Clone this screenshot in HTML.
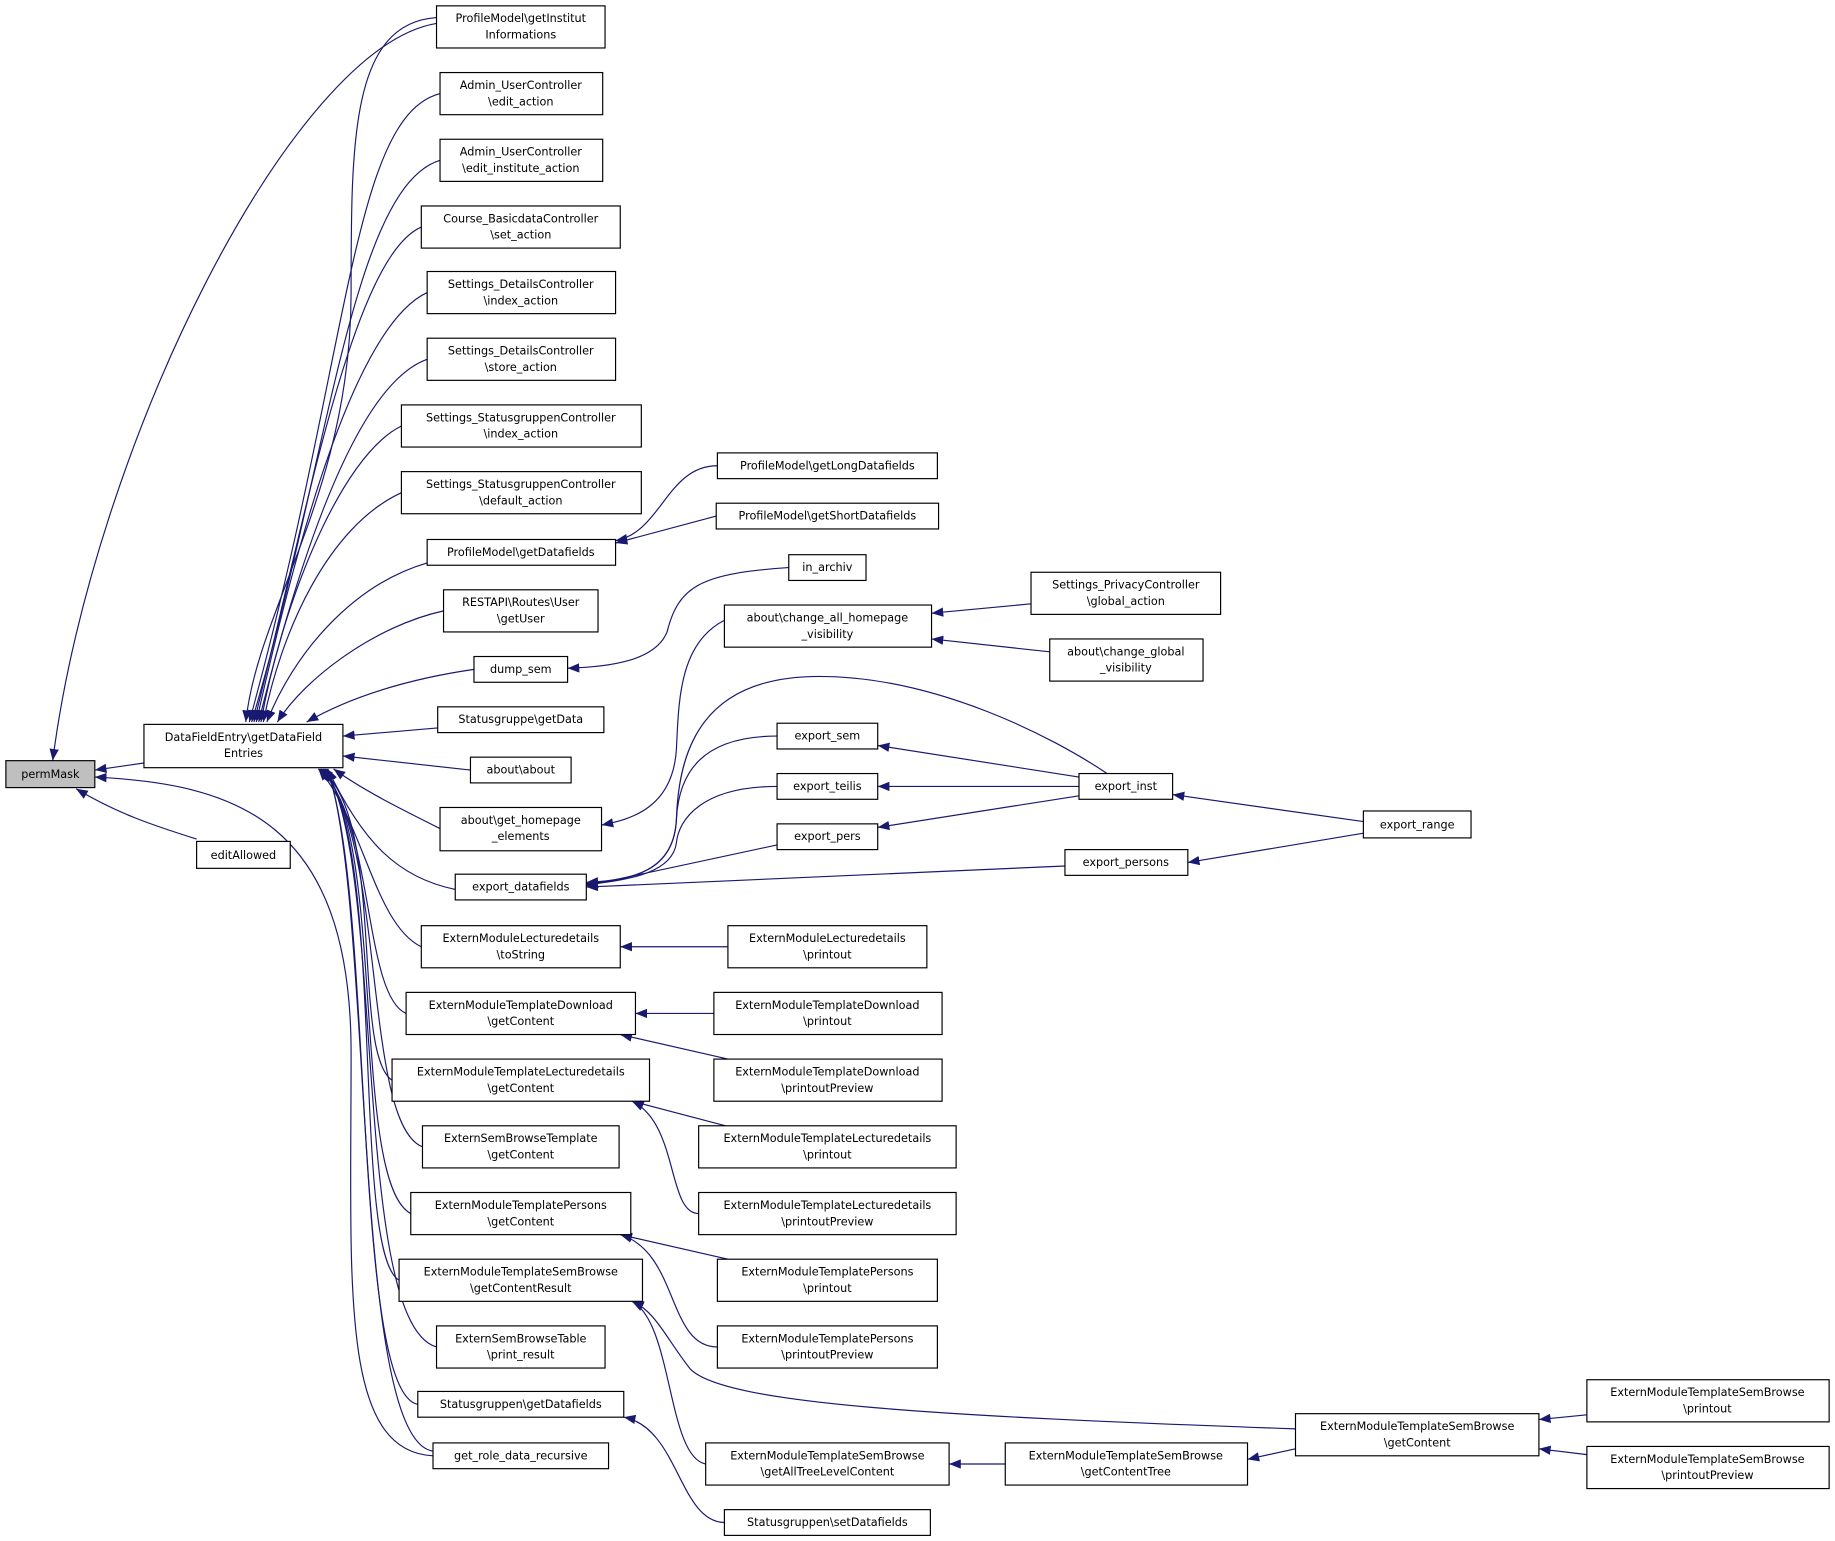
<!DOCTYPE html>
<html><head><meta charset="utf-8"><style>
html,body{margin:0;padding:0;background:#fff}
svg{display:block}
text{font-family:"DejaVu Sans","Liberation Sans",sans-serif;font-size:9.6px;fill:#000}
.b{fill:#fff;stroke:#000;stroke-width:1}
.e{fill:none;stroke:#191970;stroke-width:1}
</style></head><body>
<svg width="1835" height="1541" viewBox="0 0 1568 1316.8" xmlns="http://www.w3.org/2000/svg">
<defs><marker id="a" markerWidth="10" markerHeight="8" refX="10" refY="4" orient="auto" markerUnits="userSpaceOnUse"><polygon points="0,0 10,4 0,8" fill="#191970"/></marker></defs>
<g class="e" marker-end="url(#a)">
<path d="M373,20 C250,40 80,380 45,650"/>
<path d="M123,652 L81,658"/>
<path d="M168,717 C130,705 100,695 65,674"/>
<path d="M370,1244 C290,1240 300,1100 300,900 C300,700 200,670 81,664"/>
<path d="M373,15 C300,20 300,120 300,250 C300,420 220,520 210,617"/>
<path d="M376,80 C300,100 300,300 213,617"/>
<path d="M376,137 C300,160 280,400 215,617"/>
<path d="M360,194 C300,220 260,450 217,617"/>
<path d="M365,250 C300,280 250,480 219,617"/>
<path d="M365,307 C300,330 250,500 221,617"/>
<path d="M343,364 C290,390 240,520 223,617"/>
<path d="M343,421 C280,450 240,540 225,617"/>
<path d="M365,481 C300,500 250,560 228,617"/>
<path d="M379,522 C320,535 260,580 237,617"/>
<path d="M405,572 C350,580 300,595 262,617"/>
<path d="M374,622 L293,629"/>
<path d="M402,658 L293,646"/>
<path d="M376,708 C340,690 310,675 285,657"/>
<path d="M389,760 C340,750 310,720 280,657"/>
<path d="M360,809 C320,790 310,700 272,657"/>
<path d="M347,866 C310,850 320,700 273,657"/>
<path d="M335,923 C300,900 330,700 274,657"/>
<path d="M361,980 C310,960 330,720 275,657"/>
<path d="M351,1037 C300,1010 330,720 276,657"/>
<path d="M341,1094 C300,1070 330,730 277,657"/>
<path d="M373,1151 C300,1130 330,740 278,657"/>
<path d="M357,1200 C300,1190 320,760 279,657"/>
<path d="M370,1240 C300,1230 320,780 280,657"/>
<path d="M613,398 C570,398 565,455 526,462"/>
<path d="M612,441 L526,464"/>
<path d="M674,485 C600,490 580,500 570,540 C560,565 520,570 485,571"/>
<path d="M619,530 C580,550 580,600 578,640 C575,690 540,700 514,705"/>
<path d="M664,629 C600,629 580,660 578,700 C576,745 540,752 501,755"/>
<path d="M664,672 C600,672 580,700 578,720 C575,745 540,752 501,756"/>
<path d="M664,722 L501,757"/>
<path d="M946,661 C900,630 800,578 700,578 C600,578 580,640 578,700 C576,745 540,752 501,754"/>
<path d="M910,740 L501,758"/>
<path d="M622,809 L530,809"/>
<path d="M610,866 L543,866"/>
<path d="M622,905 L530,884"/>
<path d="M620,962 L540,941"/>
<path d="M597,1037 C570,1037 580,960 540,941"/>
<path d="M622,1076 L530,1055"/>
<path d="M613,1151 C570,1151 580,1070 530,1055"/>
<path d="M603,1251 C570,1245 575,1130 540,1112"/>
<path d="M1107,1221 C800,1210 620,1200 590,1170 C570,1145 560,1120 540,1112"/>
<path d="M619,1301 C580,1300 580,1220 533,1211"/>
<path d="M881,516 L796,524"/>
<path d="M897,557 L796,546"/>
<path d="M922,664 L750,637"/>
<path d="M922,672 L750,672"/>
<path d="M922,680 L750,707"/>
<path d="M1165,702 L1002,679"/>
<path d="M1165,712 L1015,737"/>
<path d="M859,1251 L811,1251"/>
<path d="M1107,1238 L1066,1247"/>
<path d="M1356,1209 L1315,1213"/>
<path d="M1356,1243 L1315,1238"/>
</g>
<g>
<rect x="5" y="650" width="76" height="23" fill="#bfbfbf" stroke="#000"/><text x="43" y="665" text-anchor="middle">permMask</text>
<rect class="b" x="123" y="619" width="170" height="37"/><text x="208" y="633" text-anchor="middle">DataFieldEntry\getDataField</text><text x="208" y="647" text-anchor="middle">Entries</text>
<rect class="b" x="168" y="719" width="80" height="23"/><text x="208" y="734" text-anchor="middle">editAllowed</text>
</g>
<g text-anchor="middle">
<rect class="b" x="373" y="5" width="144" height="36"/><text x="445" y="19">ProfileModel\getInstitut</text><text x="445" y="33">Informations</text>
<rect class="b" x="376" y="62" width="139" height="36"/><text x="445" y="76">Admin_UserController</text><text x="445" y="90">\edit_action</text>
<rect class="b" x="376" y="119" width="139" height="36"/><text x="445" y="133">Admin_UserController</text><text x="445" y="147">\edit_institute_action</text>
<rect class="b" x="360" y="176" width="170" height="36"/><text x="445" y="190">Course_BasicdataController</text><text x="445" y="204">\set_action</text>
<rect class="b" x="365" y="232" width="161" height="36"/><text x="445" y="246">Settings_DetailsController</text><text x="445" y="260">\index_action</text>
<rect class="b" x="365" y="289" width="161" height="36"/><text x="445" y="303">Settings_DetailsController</text><text x="445" y="317">\store_action</text>
<rect class="b" x="343" y="346" width="205" height="36"/><text x="445" y="360">Settings_StatusgruppenController</text><text x="445" y="374">\index_action</text>
<rect class="b" x="343" y="403" width="205" height="36"/><text x="445" y="417">Settings_StatusgruppenController</text><text x="445" y="431">\default_action</text>
<rect class="b" x="365" y="461" width="161" height="22"/><text x="445" y="475">ProfileModel\getDatafields</text>
<rect class="b" x="379" y="504" width="132" height="36"/><text x="445" y="518">RESTAPI\Routes\User</text><text x="445" y="532">\getUser</text>
<rect class="b" x="405" y="561" width="80" height="22"/><text x="445" y="575">dump_sem</text>
<rect class="b" x="374" y="604" width="142" height="22"/><text x="445" y="618">Statusgruppe\getData</text>
<rect class="b" x="402" y="647" width="86" height="22"/><text x="445" y="661">about\about</text>
<rect class="b" x="376" y="690" width="138" height="37"/><text x="445" y="704">about\get_homepage</text><text x="445" y="718">_elements</text>
<rect class="b" x="389" y="747" width="112" height="22"/><text x="445" y="761">export_datafields</text>
<rect class="b" x="360" y="791" width="170" height="36"/><text x="445" y="805">ExternModuleLecturedetails</text><text x="445" y="819">\toString</text>
<rect class="b" x="347" y="848" width="196" height="36"/><text x="445" y="862">ExternModuleTemplateDownload</text><text x="445" y="876">\getContent</text>
<rect class="b" x="335" y="905" width="220" height="36"/><text x="445" y="919">ExternModuleTemplateLecturedetails</text><text x="445" y="933">\getContent</text>
<rect class="b" x="361" y="962" width="168" height="36"/><text x="445" y="976">ExternSemBrowseTemplate</text><text x="445" y="990">\getContent</text>
<rect class="b" x="351" y="1019" width="188" height="36"/><text x="445" y="1033">ExternModuleTemplatePersons</text><text x="445" y="1047">\getContent</text>
<rect class="b" x="341" y="1076" width="208" height="36"/><text x="445" y="1090">ExternModuleTemplateSemBrowse</text><text x="445" y="1104">\getContentResult</text>
<rect class="b" x="373" y="1133" width="144" height="36"/><text x="445" y="1147">ExternSemBrowseTable</text><text x="445" y="1161">\print_result</text>
<rect class="b" x="357" y="1189" width="176" height="22"/><text x="445" y="1203">Statusgruppen\getDatafields</text>
<rect class="b" x="370" y="1233" width="150" height="22"/><text x="445" y="1247">get_role_data_recursive</text>

<rect class="b" x="613" y="387" width="188" height="22"/><text x="707" y="401">ProfileModel\getLongDatafields</text>
<rect class="b" x="612" y="430" width="190" height="22"/><text x="707" y="444">ProfileModel\getShortDatafields</text>
<rect class="b" x="674" y="474" width="66" height="22"/><text x="707" y="488">in_archiv</text>
<rect class="b" x="619" y="517" width="177" height="36"/><text x="707" y="531">about\change_all_homepage</text><text x="707" y="545">_visibility</text>
<rect class="b" x="664" y="618" width="86" height="22"/><text x="707" y="632">export_sem</text>
<rect class="b" x="664" y="661" width="86" height="22"/><text x="707" y="675">export_teilis</text>
<rect class="b" x="664" y="704" width="86" height="22"/><text x="707" y="718">export_pers</text>
<rect class="b" x="622" y="791" width="170" height="36"/><text x="707" y="805">ExternModuleLecturedetails</text><text x="707" y="819">\printout</text>
<rect class="b" x="610" y="848" width="195" height="36"/><text x="707" y="862">ExternModuleTemplateDownload</text><text x="707" y="876">\printout</text>
<rect class="b" x="610" y="905" width="195" height="36"/><text x="707" y="919">ExternModuleTemplateDownload</text><text x="707" y="933">\printoutPreview</text>
<rect class="b" x="597" y="962" width="220" height="36"/><text x="707" y="976">ExternModuleTemplateLecturedetails</text><text x="707" y="990">\printout</text>
<rect class="b" x="597" y="1019" width="220" height="36"/><text x="707" y="1033">ExternModuleTemplateLecturedetails</text><text x="707" y="1047">\printoutPreview</text>
<rect class="b" x="613" y="1076" width="188" height="36"/><text x="707" y="1090">ExternModuleTemplatePersons</text><text x="707" y="1104">\printout</text>
<rect class="b" x="613" y="1133" width="188" height="36"/><text x="707" y="1147">ExternModuleTemplatePersons</text><text x="707" y="1161">\printoutPreview</text>
<rect class="b" x="603" y="1233" width="208" height="36"/><text x="707" y="1247">ExternModuleTemplateSemBrowse</text><text x="707" y="1261">\getAllTreeLevelContent</text>
<rect class="b" x="619" y="1290" width="176" height="22"/><text x="707" y="1304">Statusgruppen\setDatafields</text>

<rect class="b" x="881" y="489" width="162" height="36"/><text x="962" y="503">Settings_PrivacyController</text><text x="962" y="517">\global_action</text>
<rect class="b" x="897" y="546" width="131" height="36"/><text x="962" y="560">about\change_global</text><text x="962" y="574">_visibility</text>
<rect class="b" x="922" y="661" width="80" height="22"/><text x="962" y="675">export_inst</text>
<rect class="b" x="910" y="726" width="105" height="22"/><text x="962" y="740">export_persons</text>
<rect class="b" x="859" y="1233" width="207" height="36"/><text x="962" y="1247">ExternModuleTemplateSemBrowse</text><text x="962" y="1261">\getContentTree</text>

<rect class="b" x="1165" y="693" width="92" height="23"/><text x="1211" y="708">export_range</text>
<rect class="b" x="1107" y="1208" width="208" height="36"/><text x="1211" y="1222">ExternModuleTemplateSemBrowse</text><text x="1211" y="1236">\getContent</text>
<rect class="b" x="1356" y="1179" width="207" height="36"/><text x="1459" y="1193">ExternModuleTemplateSemBrowse</text><text x="1459" y="1207">\printout</text>
<rect class="b" x="1356" y="1236" width="207" height="36"/><text x="1459" y="1250">ExternModuleTemplateSemBrowse</text><text x="1459" y="1264">\printoutPreview</text>
</g>
</svg>
</body></html>
